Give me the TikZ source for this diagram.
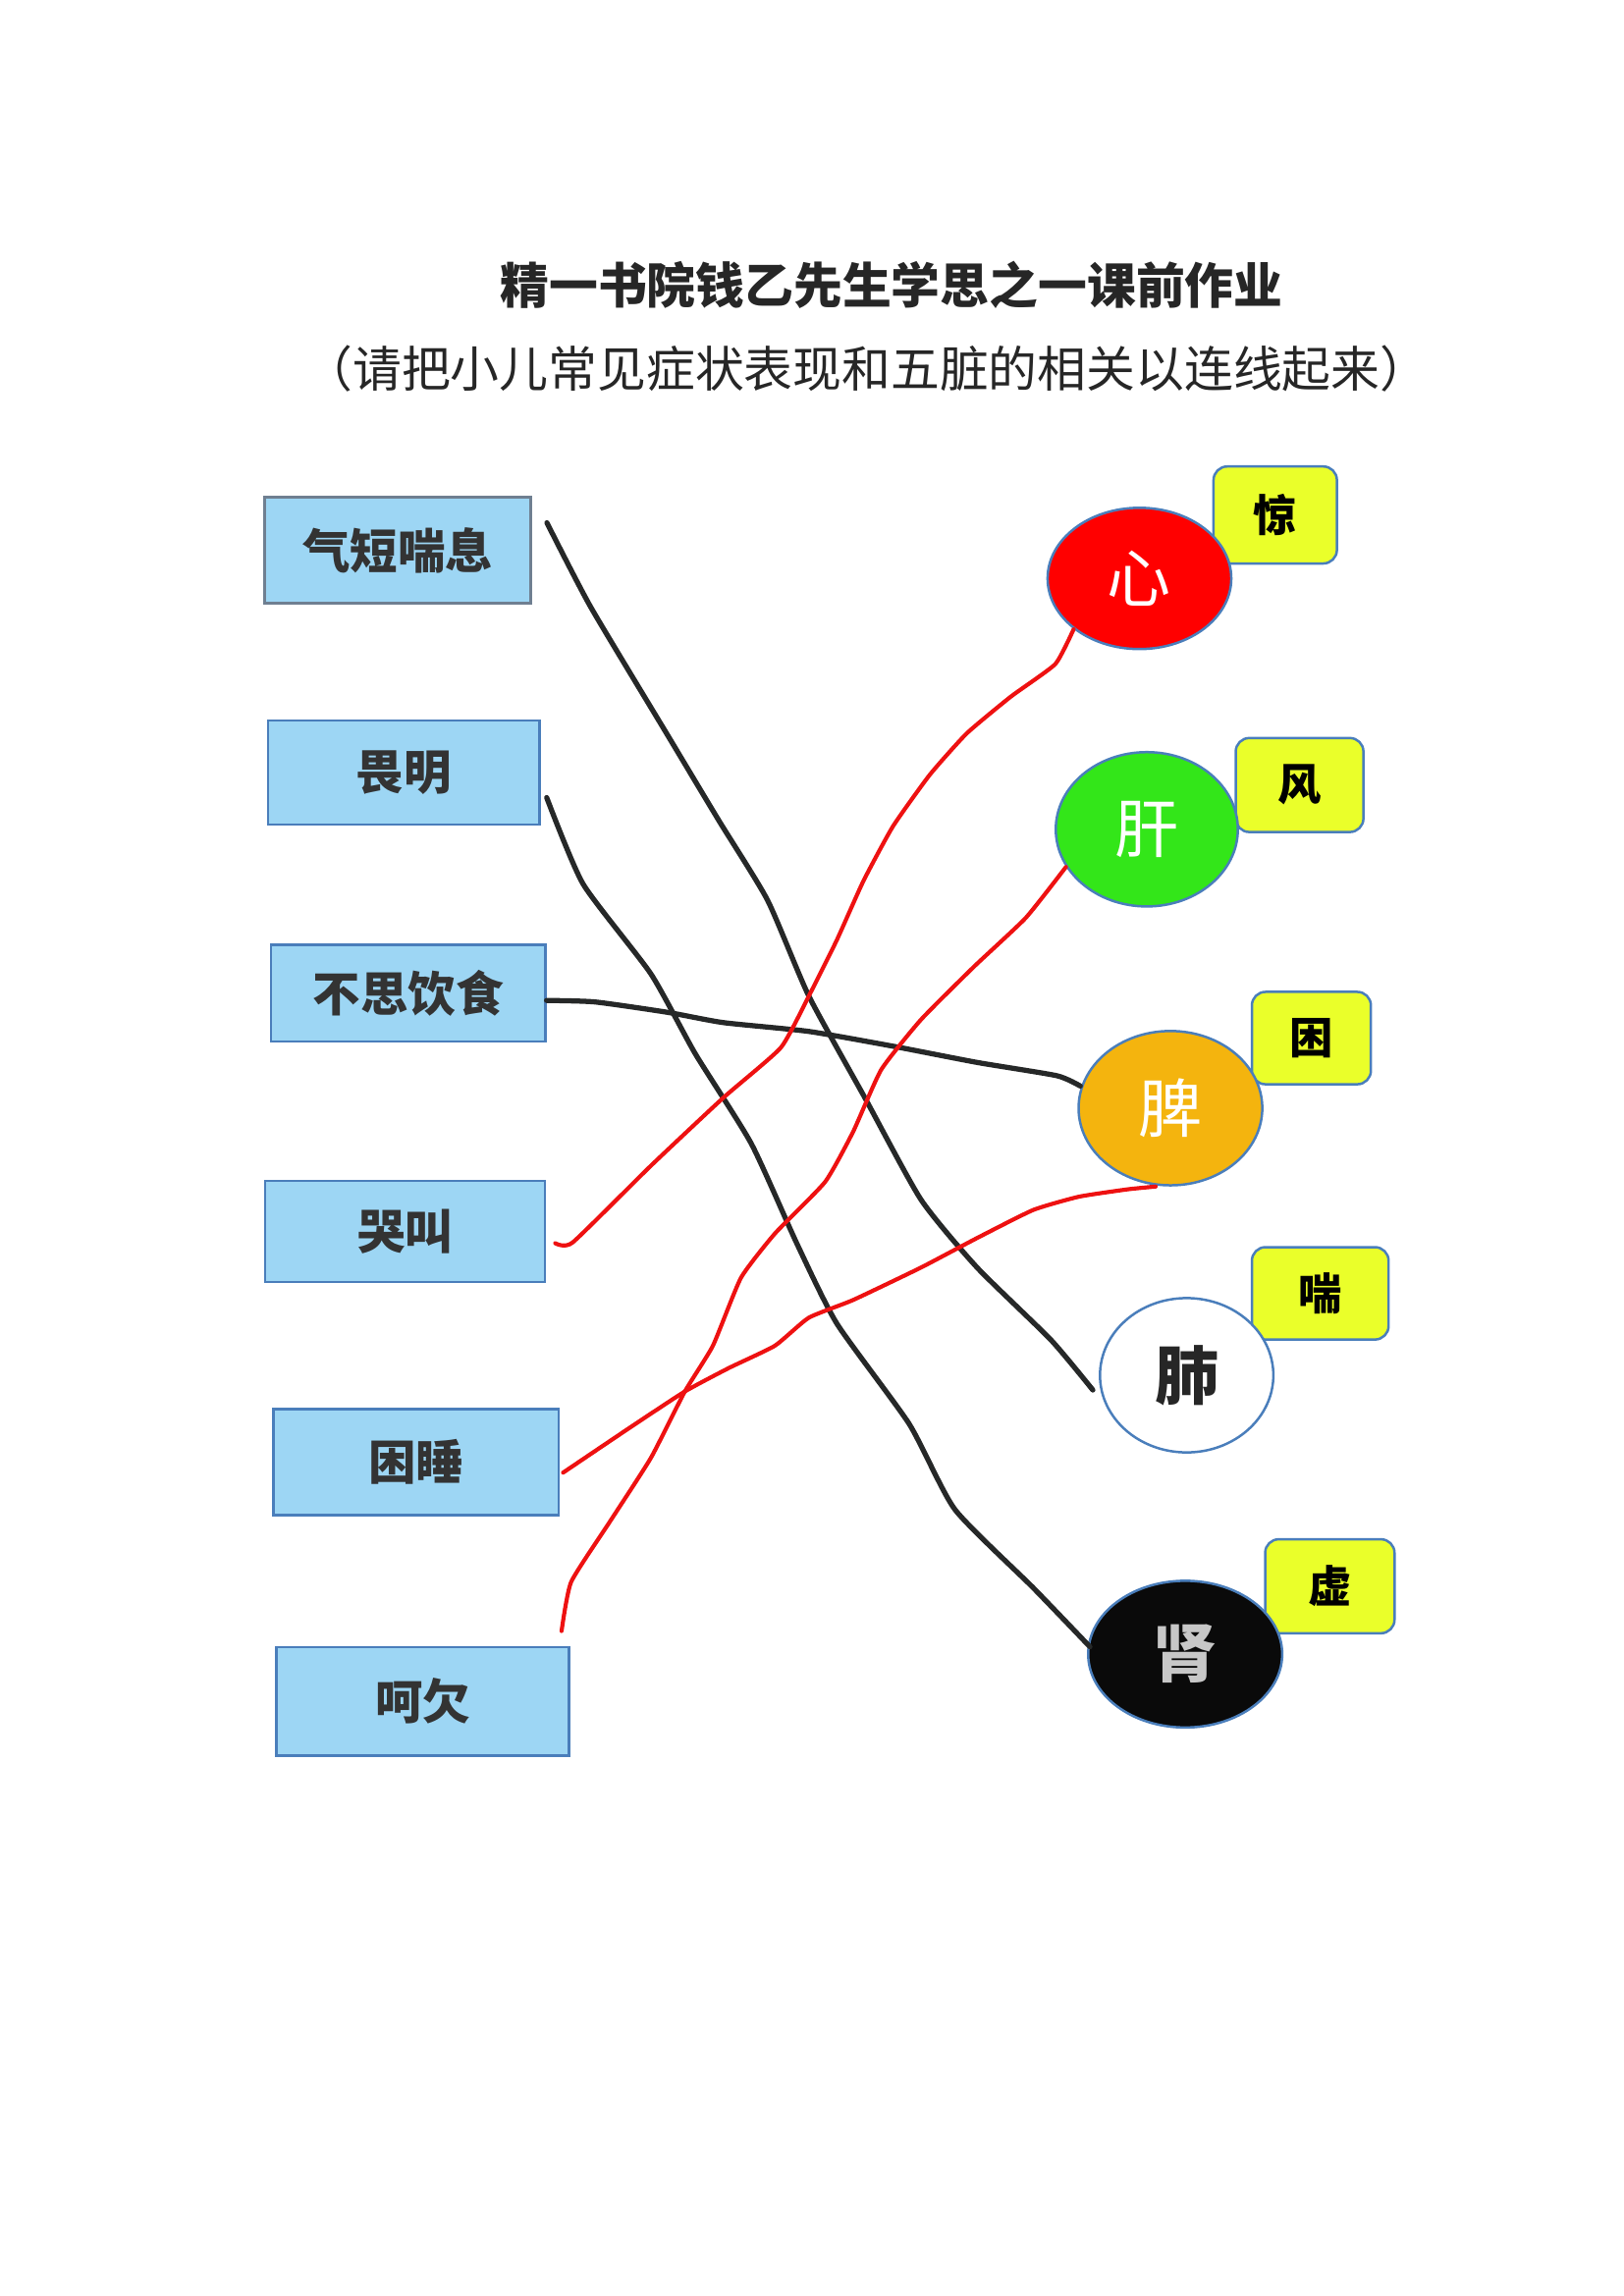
\documentclass[tikz,border=0pt]{standalone}
\usepackage{fontspec}
\newfontfamily\cjk{Noto Sans CJK SC}
\usetikzlibrary{shapes}
\definecolor{boxblue}{HTML}{9DD6F4}
\definecolor{edgeblue}{HTML}{4A7EBB}
\definecolor{tagyellow}{HTML}{EAFF2A}
\definecolor{xinred}{HTML}{FF0000}
\definecolor{gangreen}{HTML}{33E619}
\definecolor{piorange}{HTML}{F4B40E}
\definecolor{pencil}{HTML}{262828}
\definecolor{inkred}{HTML}{EE1111}
\tikzset{
symptom/.style={draw=edgeblue, line width=0.9pt, fill=boxblue,
    minimum width=100pt, minimum height=38pt,
    font=\cjk\bfseries\fontsize{17.5}{20}\selectfont, text=black!80},
organ/.style={draw=edgeblue, line width=0.9pt, ellipse, inner sep=0pt,
    minimum width=67pt, minimum height=56pt,
    font=\cjk\fontsize{23.5}{26}\selectfont, text=white},
tag/.style={draw=edgeblue, line width=0.9pt, fill=tagyellow, rounded corners=5pt,
    minimum width=46pt, minimum height=34pt,
    font=\cjk\bfseries\fontsize{16}{18}\selectfont},
blackline/.style={draw=pencil, line width=1.9pt, line cap=round, line join=round},
redline/.style={draw=inkred, line width=1.5pt, line cap=round, line join=round}
}

\begin{document}
\begin{tikzpicture}[x=0.019091cm, y=-0.019087cm]
\useasboundingbox (0,0) rectangle (1100,1556);

\node[font=\cjk\bfseries\fontsize{18}{20}\selectfont, text=black!85] (title) at (604,193) {精一书院钱乙先生学思之一课前作业};
\node[font=\cjk\fontsize{18}{20}\selectfont, text=black!85] (subtitle) at (587,250) {（请把小儿常见症状表现和五脏的相关以连线起来）};

\node[symptom, draw=gray!70!edgeblue, minimum width=98pt, minimum height=39pt] (qiduan) at (269.5,373) {气短喘息};
\node[symptom, minimum width=100pt, minimum height=38.4pt] (weiming) at (273.5,523.5) {畏明};
\node[symptom, minimum width=101pt, minimum height=35.7pt] (busi) at (276.5,673) {不思饮食};
\node[symptom, minimum width=103pt, minimum height=37.3pt] (kujiao) at (274.5,834.5) {哭叫};
\node[symptom, minimum width=105pt, minimum height=39pt] (kunshui) at (282,991) {困睡};
\node[symptom, minimum width=107.7pt, minimum height=40pt] (haqian) at (286.5,1153) {呵欠};

\node[tag, minimum width=45.4pt, minimum height=35.7pt] (jing) at (864,349) {惊};
\node[tag, minimum width=47pt, minimum height=34.6pt] (feng) at (880.5,532) {风};
\node[tag, minimum width=43.8pt, minimum height=34pt] (kun) at (888.5,703.5) {困};
\node[tag, minimum width=50.3pt, minimum height=34pt] (chuan) at (894.5,876.5) {喘};
\node[tag, minimum width=47.6pt, minimum height=34.6pt] (xu) at (901,1075) {虚};

\node[organ, fill=xinred, minimum width=67.6pt, minimum height=52pt] (xin) at (772,392) {心};
\node[organ, fill=gangreen, minimum width=67pt, minimum height=56.8pt] (gan) at (777,562) {肝};
\node[organ, fill=piorange, minimum width=67.6pt, minimum height=56.8pt] (pi) at (793,751) {脾};
\node[organ, fill=white, text=black!85, font=\cjk\bfseries\fontsize{23.5}{26}\selectfont, minimum width=63.8pt, minimum height=56.8pt] (fei) at (804,932) {肺};
\node[organ, fill=black!96, text=black!22, font=\cjk\bfseries\fontsize{23.5}{26}\selectfont, minimum width=71.4pt, minimum height=54pt] (shen) at (803,1121) {肾};

\draw[blackline] plot[smooth, tension=0.35] coordinates {([shift={(10,18)}]qiduan.north east) (400,411) (451,496) (487,556) (520,610) (548,675) (586,744) (624,813) (662,859) (712,908) ([shift={(-4,10)}]fei.west)};
\draw[blackline] plot[smooth, tension=0.35] coordinates {([shift={(4,17)}]weiming.east) (395,599) (441,660) (471,714) (509,775) (540,843) (567,897) (616,965) (647,1023) (700,1076) ([shift={(2,-5)}]shen.west)};
\draw[blackline] plot[smooth, tension=0.35] coordinates {([shift={(0,5)}]busi.east) (403,679) (452,686) (490,693) (548,699) (605,709) (662,720) (716,729) ([shift={(2,-15)}]pi.west)};

\draw[redline] plot[smooth, tension=0.3] coordinates {([shift={(6,8)}]kujiao.east) (388,842) (441,790) (490,744) (529,710) (548,675) (567,637) (585,597) (605,560) (630,525) (655,497) (685,472) (715,450) (xin.south west)};
\draw[redline] plot[smooth, tension=0.3] coordinates {([shift={(2,7)}]kunshui.east) (426,968) (464,943) (494,927) (525,912) (548,893) (578,881) (624,859) (662,839) (700,820) (731,811) (764,806) ([shift={(-10,0)}]pi.south)};
\draw[redline] plot[smooth, tension=0.3] coordinates {([shift={(-6,-10)}]haqian.north east) (387,1072) (414,1030) (441,988) (464,943) (483,912) (502,866) (525,836) (559,801) (578,767) (597,725) (624,691) (660,655) (695,622) (gan.205)};
\end{tikzpicture}
\end{document}
